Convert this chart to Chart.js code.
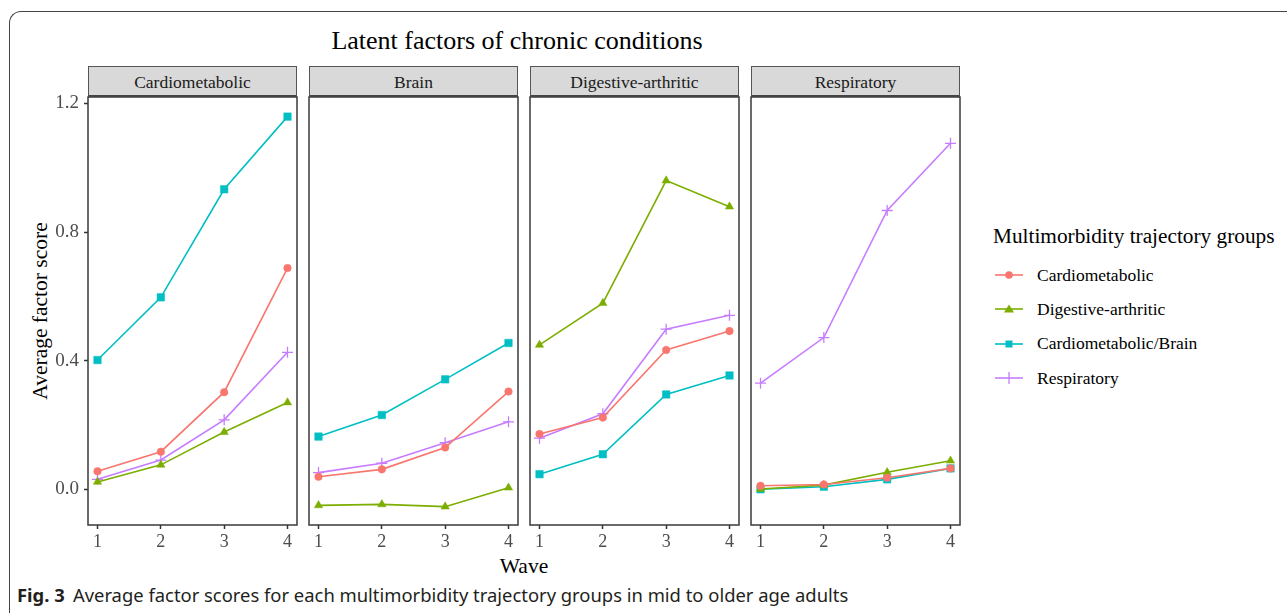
<!DOCTYPE html>
<html>
<head>
<meta charset="utf-8">
<script src="https://cdn.jsdelivr.net/npm/chart.js@4.4.0/dist/chart.umd.min.js"></script>
<style>
  body { margin: 0; background: #fff; width: 1287px; height: 613px; overflow: hidden; position: relative; font-family: "Liberation Serif", "DejaVu Serif", serif; }
  .frame { position: absolute; left: 9px; top: 11px; width: 1300px; height: 620px; border-top: 1.5px solid #444; border-left: 1.5px solid #444; border-top-left-radius: 12px; }
  .title { position: absolute; left: 0; width: 1034px; top: 26px; text-align: center; font-size: 26px; color: #000; }
  .strip { position: absolute; top: 66px; height: 31px; background: #d9d9d9; border: 1px solid #555; border-bottom: 2px solid #444; box-sizing: border-box; text-align: center; line-height: 30px; font-size: 17.5px; color: #1a1a1a; }
  canvas { position: absolute; }
  .ytitle { position: absolute; left: 40px; top: 311px; transform: translate(-50%, -50%) rotate(-90deg); font-size: 21.5px; white-space: nowrap; color: #000; }
  .xtitle { position: absolute; left: 524px; top: 566px; transform: translate(-50%, -50%); font-size: 21.5px; color: #000; }
  .legend { position: absolute; left: 993px; top: 224px; color: #000; }
  .legend .lt { font-size: 21.3px; margin-bottom: 9px; white-space: nowrap; }
  .legend .item { height: 34.3px; display: flex; align-items: center; font-size: 17.5px; white-space: nowrap; }
  .legend svg { margin-left: 2px; margin-right: 14px; }
  .caption { position: absolute; left: 17px; top: 583px; font-family: "Noto Sans", "Open Sans", sans-serif; font-size: 18px; color: #231f20; white-space: nowrap; transform-origin: 0 50%; }
  .caption b { margin-right: 8px; }
</style>
</head>
<body>
<div class="frame"></div>
<div class="title">Latent factors of chronic conditions</div>
<div class="ytitle">Average factor score</div>
<div class="xtitle">Wave</div>
<div class="legend" id="legend"><div class="lt">Multimorbidity trajectory groups</div></div>
<div class="caption" id="caption"><b>Fig. 3</b>Average factor scores for each multimorbidity trajectory groups in mid to older age adults</div>

<script>
// Data
const waves = [1, 2, 3, 4];
const panels = ['Cardiometabolic', 'Brain', 'Digestive-arthritic', 'Respiratory'];
const groups = ['Cardiometabolic', 'Digestive-arthritic', 'Cardiometabolic/Brain', 'Respiratory'];
const yTicks = [0, 0.4, 0.8, 1.2];

// one array per panel, one row per group (same order as groups)
const cardiometabolicScores = [
    [0.056, 0.117, 0.302, 0.688],
    [0.023, 0.076, 0.178, 0.270],
    [0.402, 0.597, 0.933, 1.159],
    [0.031, 0.091, 0.216, 0.426]
];
const brainScores = [
    [0.039, 0.062, 0.130, 0.304],
    [-0.050, -0.047, -0.054, 0.005],
    [0.164, 0.231, 0.342, 0.455],
    [0.052, 0.081, 0.145, 0.210]
];
const digestiveScores = [
    [0.172, 0.223, 0.433, 0.492],
    [0.449, 0.579, 0.960, 0.879],
    [0.047, 0.109, 0.295, 0.354],
    [0.159, 0.235, 0.498, 0.541]
];
const respiratoryScores = [
    [0.011, 0.015, 0.036, 0.065],
    [0.001, 0.013, 0.053, 0.089],
    [0.000, 0.008, 0.031, 0.065],
    [0.330, 0.472, 0.867, 1.076]
];
const panelScores = [cardiometabolicScores, brainScores, digestiveScores, respiratoryScores];

// styling
const colors = ['#F8766D', '#7CAE00', '#00BFC4', '#C77CFF'];
const pointStyles = ['circle', 'triangle', 'rect', 'cross'];
const pointRadii = [3.8, 4.8, 5.3, 5.5];

const panelLefts = [88, 309, 530, 751];
const panelWidth = 209;
const plotTop = 97, plotBottom = 525;

// border around each panel
const panelBorder = {
    id: 'panelBorder',
    afterDraw(chart) {
        const a = chart.chartArea;
        const ctx = chart.ctx;
        ctx.save();
        ctx.strokeStyle = '#3a3a3a';
        ctx.lineWidth = 1.5;
        ctx.strokeRect(a.left, a.top, a.right - a.left, a.bottom - a.top);
        ctx.restore();
    }
};

function makePanel(i) {
    const first = i === 0;
    const canvasLeft = first ? 20 : panelLefts[i] - 12;
    const canvasTop = 80;
    const canvasRight = panelLefts[i] + panelWidth + 8;
    const canvas = document.createElement('canvas');
    canvas.width = canvasRight - canvasLeft;
    canvas.height = 560 - canvasTop;
    canvas.style.left = canvasLeft + 'px';
    canvas.style.top = canvasTop + 'px';
    document.body.appendChild(canvas);

    const strip = document.createElement('div');
    strip.className = 'strip';
    strip.style.left = panelLefts[i] + 'px';
    strip.style.width = panelWidth + 'px';
    strip.textContent = panels[i];
    document.body.appendChild(strip);

    const datasets = groups.map((g, k) => ({
        label: g,
        data: waves.map((w, j) => ({ x: w, y: panelScores[i][k][j] })),
        borderColor: colors[k],
        backgroundColor: colors[k],
        pointBorderColor: colors[k],
        pointBackgroundColor: colors[k],
        borderWidth: 1.6,
        pointStyle: pointStyles[k],
        pointRadius: pointRadii[k],
        pointBorderWidth: k === 3 ? 1.3 : 0.5,
        tension: 0,
        clip: false
    }));

    new Chart(canvas, {
        type: 'line',
        data: { datasets },
        plugins: [panelBorder],
        options: {
            responsive: false,
            animation: false,
            layout: { padding: { top: plotTop - canvasTop, right: 8, left: first ? 0 : 12, bottom: 0 } },
            plugins: { legend: { display: false }, tooltip: { enabled: false } },
            scales: {
                x: {
                    type: 'linear',
                    min: 0.85,
                    max: 4.15,
                    afterBuildTicks: s => { s.ticks = waves.map(v => ({ value: v })); },
                    afterFit: s => { s.height = 560 - plotBottom; s.paddingLeft = 0; s.paddingRight = 0; },
                    grid: { drawOnChartArea: false, drawTicks: true, tickLength: 4, tickColor: '#333', tickWidth: 1.5 },
                    border: { display: false },
                    ticks: {
                        color: '#4d4d4d', padding: 2,
                        font: { family: 'Liberation Serif', size: 18 },
                        callback: v => String(v)
                    }
                },
                y: {
                    type: 'linear',
                    display: first,
                    min: -0.111,
                    max: 1.22,
                    afterBuildTicks: s => { s.ticks = yTicks.map(v => ({ value: v })); },
                    afterFit: s => { s.width = panelLefts[0] - canvasLeft; s.paddingTop = 0; s.paddingBottom = 0; },
                    grid: { drawOnChartArea: false, drawTicks: true, tickLength: 4, tickColor: '#333', tickWidth: 1.5 },
                    border: { display: false },
                    ticks: {
                        color: '#4d4d4d', padding: 5,
                        font: { family: 'Liberation Serif', size: 19 },
                        callback: v => v.toFixed(1)
                    }
                }
            }
        }
    });
}

panels.forEach((p, i) => makePanel(i));

// legend
const legend = document.getElementById('legend');
groups.forEach((g, k) => {
    const item = document.createElement('div');
    item.className = 'item';
    let mark = '';
    const c = colors[k];
    if (k === 0) mark = `<circle cx="14" cy="8" r="3.8" fill="${c}"/>`;
    if (k === 1) mark = `<polygon points="14,3.5 19,11.5 9,11.5" fill="${c}"/>`;
    if (k === 2) mark = `<rect x="10.5" y="4.5" width="7" height="7" fill="${c}"/>`;
    if (k === 3) mark = `<line x1="14" y1="2" x2="14" y2="14" stroke="${c}" stroke-width="1.3"/>`;
    item.innerHTML = `<svg width="28" height="16"><line x1="0" y1="8" x2="28" y2="8" stroke="${c}" stroke-width="1.6"/>${mark}</svg><span>${g}</span>`;
    legend.appendChild(item);
});

// squeeze caption to the width it has in the figure
const caption = document.getElementById('caption');
caption.style.transform = `scaleX(${831 / caption.offsetWidth})`;
</script>
</body>
</html>
